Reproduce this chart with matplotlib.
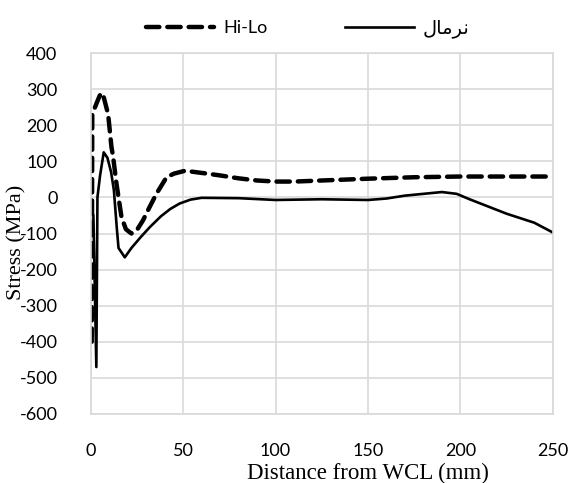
import matplotlib
matplotlib.use("Agg")
import matplotlib.pyplot as plt

# Hi-Lo (dashed) curve
hilo_x = [0.5, 0.8, 2.2, 4, 5.5, 7, 9.4, 11.2, 12, 13.9, 16.6, 19, 22, 25, 28.3, 31.5,
          35.5, 41, 45, 51, 57, 63, 70, 80, 90, 100, 110, 125, 150, 175, 200, 225, 250]
hilo_y = [-400, 230, 249, 272, 290, 278, 230, 139, 116, 38, -54, -88, -100, -90, -63, -30,
          10, 56, 66, 74, 70, 66, 61, 53, 47, 44, 44, 47, 52, 56, 58, 58, 58]

# normal (solid) curve
norm_x = [1.4, 3.0, 3.6, 5, 7, 9, 11, 12.5, 14, 15, 18.4, 22, 27, 32, 38, 43, 48, 54,
          60, 80, 100, 125, 150, 160, 170, 180, 190, 198, 205, 215, 225, 240, 250]
norm_y = [-50, -470, 0, 60, 125, 110, 70, 20, -80, -140, -166, -140, -110, -82, -52, -32,
          -17, -6, -1, -2, -7, -5, -7, -3, 5, 10, 15, 10, -5, -25, -45, -70, -97]

legend_labels = ["Hi-Lo", "\uFEDD\uFE8E\uFEE3\uFEAE\uFEE7"]  # نرمال (pre-shaped)
x_ticks = [0, 50, 100, 150, 200, 250]
y_ticks = list(range(-600, 401, 100))

plt.rcParams['axes.unicode_minus'] = False
plt.rcParams['font.family'] = ['Lato', 'DejaVu Sans']

fig = plt.figure(figsize=(5.71, 4.83), dpi=100)
ax = fig.add_axes([0.159, 0.143, 0.809, 0.747])

ax.plot(hilo_x, hilo_y, color='black', lw=3.2, ls=(0, (3, 1.8)),
        dash_capstyle='round', label=legend_labels[0])
ax.plot(norm_x, norm_y, color='black', lw=1.9, label=legend_labels[1])

ax.set_xlim(0, 250)
ax.set_ylim(-600, 400)
ax.set_xticks(x_ticks)
ax.set_yticks(y_ticks)
ax.grid(True, color='#d9d9d9', lw=1.2)
ax.set_axisbelow(True)
for s in ax.spines.values():
    s.set_color('#d9d9d9')
    s.set_linewidth(1.2)
ax.tick_params(length=0, labelsize=13)
ax.tick_params(axis='x', pad=21)
ax.tick_params(axis='y', pad=24)

ax.set_xlabel("Distance from WCL (mm)", family='Liberation Serif', fontsize=16.5)
ax.xaxis.set_label_coords(0.6, -0.135)
ax.set_ylabel("Stress (MPa)", family='Liberation Serif', fontsize=16)
ax.yaxis.set_label_coords(-0.14, 0.475)

leg = ax.legend(ncol=2, loc='center', bbox_to_anchor=(0.47, 1.07), frameon=False,
                fontsize=13, handlelength=3.8, columnspacing=4.3, handletextpad=0.5)
leg.get_texts()[1].set_family(['DejaVu Sans'])
leg.get_texts()[1].set_fontsize(14)

fig.savefig("out.png", dpi=100)
